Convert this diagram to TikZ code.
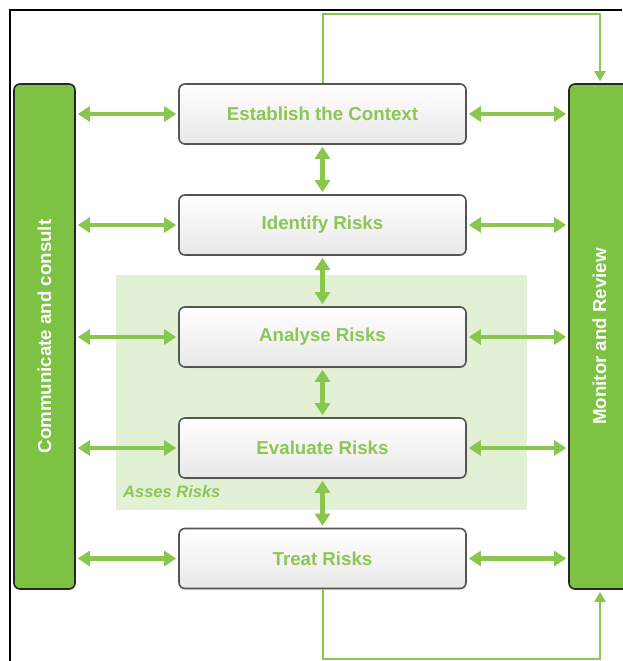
\documentclass[tikz,border=0pt]{standalone}
\usepackage{fontspec}
\setmainfont{Liberation Sans}
\usetikzlibrary{arrows.meta,shadows,calc}
\definecolor{arrgreen}{HTML}{88C64E}
\definecolor{bargreen}{HTML}{7DC242}
\definecolor{txtgreen}{HTML}{8CC653}
\definecolor{assessgreen}{HTML}{E2F0D5}
\definecolor{bordergray}{HTML}{555555}
\begin{document}
\begin{tikzpicture}[x=1pt,y=-1pt,
  stepbox/.style={draw=bordergray, line width=1.6pt, rounded corners=6pt,
    top color=white, bottom color=black!9, minimum width=287pt, minimum height=60pt,
    inner sep=0pt, font=\bfseries\fontsize{18.7}{20}\selectfont, text=txtgreen,
    drop shadow={opacity=0.15, shadow xshift=1pt, shadow yshift=-1.2pt}},
  sidebar/.style={draw=black!85, line width=1.6pt, rounded corners=6pt, fill=bargreen,
    minimum width=61pt, minimum height=505pt, inner sep=0pt,
    font=\bfseries\fontsize{18.7}{20}\selectfont, text=white},
  dbl/.style={draw=arrgreen, line width=4.5pt,
    {Triangle[length=12pt,width=15pt]}-{Triangle[length=12pt,width=15pt]}},
  fb/.style={draw=arrgreen, line width=2pt, -{Triangle[length=10pt,width=11pt]}},
]
\useasboundingbox (0,0) rectangle (622,661);
% frame
\draw[black, line width=2pt] (10,661) -- (10,10) -- (622,10);
% assess risks shading
\fill[assessgreen] (116,275) rectangle (527,510);
\node[anchor=west, font=\bfseries\itshape\fontsize{16.5}{18}\selectfont, text=txtgreen, inner sep=0pt] (assess) at (123,492) {Asses Risks};
% side bars
\node[sidebar] (comm) at (44.5,336.5) {\rotatebox{90}{Communicate and consult}};
\node[sidebar] (mon) at (599.5,336.5) {\rotatebox{90}{Monitor and Review}};
% step boxes
\node[stepbox] (ctx) at (322.5,114) {Establish the Context};
\node[stepbox] (ide) at (322.5,225) {Identify Risks};
\node[stepbox] (ana) at (322.5,337) {Analyse Risks};
\node[stepbox] (eva) at (322.5,448) {Evaluate Risks};
\node[stepbox] (tre) at (322.5,558.5) {Treat Risks};
% horizontal arrows
\foreach \n in {ctx,ide,ana,eva,tre}{
  \draw[dbl, shorten <=2pt, shorten >=2pt] (comm.east |- \n.west) -- (\n.west);
  \draw[dbl, shorten <=2pt, shorten >=2pt] (\n.east) -- (mon.west |- \n.east);
}
% vertical arrows
\draw[dbl, shorten <=2pt, shorten >=2pt] (ctx.south) -- (ide.north);
\draw[dbl, shorten <=2pt, shorten >=2pt] (ide.south) -- (ana.north);
\draw[dbl, shorten <=2pt, shorten >=2pt] (ana.south) -- (eva.north);
\draw[dbl, shorten <=2pt, shorten >=2pt] (eva.south) -- (tre.north);
% feedback loops
\coordinate (tr) at (600,14);
\coordinate (br) at (600,659);
\draw[fb, shorten >=2pt] (ctx.north) |- (tr) -- (tr |- mon.north);
\draw[fb, shorten >=2pt] (tre.south) |- (br) -- (br |- mon.south);
\end{tikzpicture}
\end{document}
